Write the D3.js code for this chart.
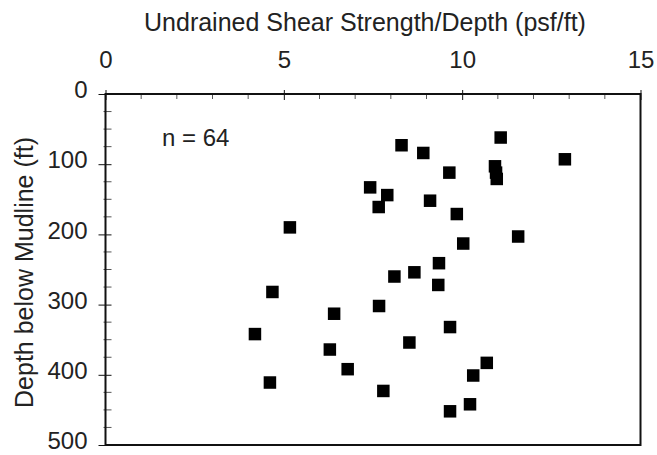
<!DOCTYPE html>
<html>
<head>
<meta charset="utf-8">
<script src="https://cdn.jsdelivr.net/npm/d3@7"></script>
<style>
  html, body { margin: 0; padding: 0; background: #fff; }
  svg { display: block; font-family: "Liberation Sans", Arial, sans-serif; }
</style>
</head>
<body>
<svg id="chart" width="657" height="455"></svg>
<script>
// Undrained shear strength normalised by depth (psf/ft) against depth below mudline (ft)
const strengthRatio = [11.08, 8.30, 8.91, 12.88, 10.92, 10.95, 10.97, 9.64, 7.42, 7.90,
                       7.66, 9.10, 9.85, 5.17, 11.57, 10.03, 9.35, 8.66, 8.10, 4.68,
                       9.33, 7.67, 6.41, 4.19, 9.66, 8.52, 6.29, 6.79, 10.69, 10.31,
                       4.61, 7.79, 10.22, 9.66];
const depth = [62, 73, 84, 93, 103, 112, 121, 112, 133, 144,
               161, 152, 171, 190, 203, 213, 241, 254, 260, 282,
               272, 302, 313, 342, 332, 354, 364, 392, 383, 401,
               411, 423, 442, 452];
const xTicks = [0, 5, 10, 15];
const yTicks = [0, 100, 200, 300, 400, 500];
const xTitle = "Undrained Shear Strength/Depth (psf/ft)";
const yTitle = "Depth below Mudline (ft)";
const countLabel = "n = 64";

const svg = d3.select("#chart");
const plotLeft = 105.5, plotRight = 640.5, plotTop = 94, plotBottom = 445;
const ink = "#111";

const x = d3.scaleLinear().domain([0, 15]).range([plotLeft, plotRight]);
const y = d3.scaleLinear().domain([0, 500]).range([plotTop, plotBottom]);

// x axis along the top edge: major ticks crossing the frame, minor ticks inside
const xAxis = svg.append("g")
  .attr("transform", `translate(0,${plotTop})`)
  .call(d3.axisTop(x).tickValues(xTicks).tickSize(0).tickPadding(26));
xAxis.select(".domain").remove();
xAxis.selectAll(".tick text").attr("font-size", 24).attr("fill", "#222")
  .attr("font-family", "Liberation Sans, Arial, sans-serif");
xAxis.selectAll(".tick line").attr("y1", -4).attr("y2", 6).attr("stroke", ink).attr("stroke-width", 1);

svg.append("g").selectAll("line")
  .data(d3.range(0, 16).filter(v => v % 5 !== 0))
  .join("line")
  .attr("x1", d => x(d)).attr("x2", d => x(d))
  .attr("y1", plotTop).attr("y2", plotTop + 5)
  .attr("stroke", "#555").attr("stroke-width", 1);

// y axis on the left, depth increasing downward
const yAxis = svg.append("g")
  .attr("transform", `translate(${plotLeft},0)`)
  .call(d3.axisLeft(y).tickValues(yTicks).tickSize(0).tickPadding(18));
yAxis.select(".domain").remove();
yAxis.selectAll(".tick text").attr("font-size", 24).attr("fill", "#222")
  .attr("dy", "0.15em")
  .attr("font-family", "Liberation Sans, Arial, sans-serif");
yAxis.selectAll(".tick line").attr("x1", -7).attr("x2", 6).attr("stroke", ink).attr("stroke-width", 1);

svg.append("g").selectAll("line")
  .data(d3.range(25, 500, 25).filter(v => v % 100 !== 0))
  .join("line")
  .attr("x1", plotLeft - 2).attr("x2", plotLeft + 6)
  .attr("y1", d => y(d)).attr("y2", d => y(d))
  .attr("stroke", "#555").attr("stroke-width", 1);

// plot frame
svg.append("rect")
  .attr("x", plotLeft).attr("y", plotTop)
  .attr("width", plotRight - plotLeft).attr("height", plotBottom - plotTop)
  .attr("fill", "none").attr("stroke", ink).attr("stroke-width", 2);

// data markers
const size = 12.5;
svg.append("g").selectAll("rect")
  .data(d3.range(strengthRatio.length))
  .join("rect")
  .attr("x", i => x(strengthRatio[i]) - size / 2)
  .attr("y", i => y(depth[i]) - size / 2)
  .attr("width", size).attr("height", size)
  .attr("fill", "#000");

// titles and annotation
svg.append("text")
  .attr("x", 365).attr("y", 31)
  .attr("text-anchor", "middle")
  .attr("font-size", 25).attr("fill", "#222")
  .text(xTitle);

svg.append("text")
  .attr("transform", `translate(33,${(plotTop + plotBottom) / 2 + 3}) rotate(-90)`)
  .attr("text-anchor", "middle")
  .attr("font-size", 25).attr("fill", "#222")
  .text(yTitle);

svg.append("text")
  .attr("x", 162).attr("y", 146)
  .attr("font-size", 24).attr("fill", "#222")
  .text(countLabel);
</script>
</body>
</html>
